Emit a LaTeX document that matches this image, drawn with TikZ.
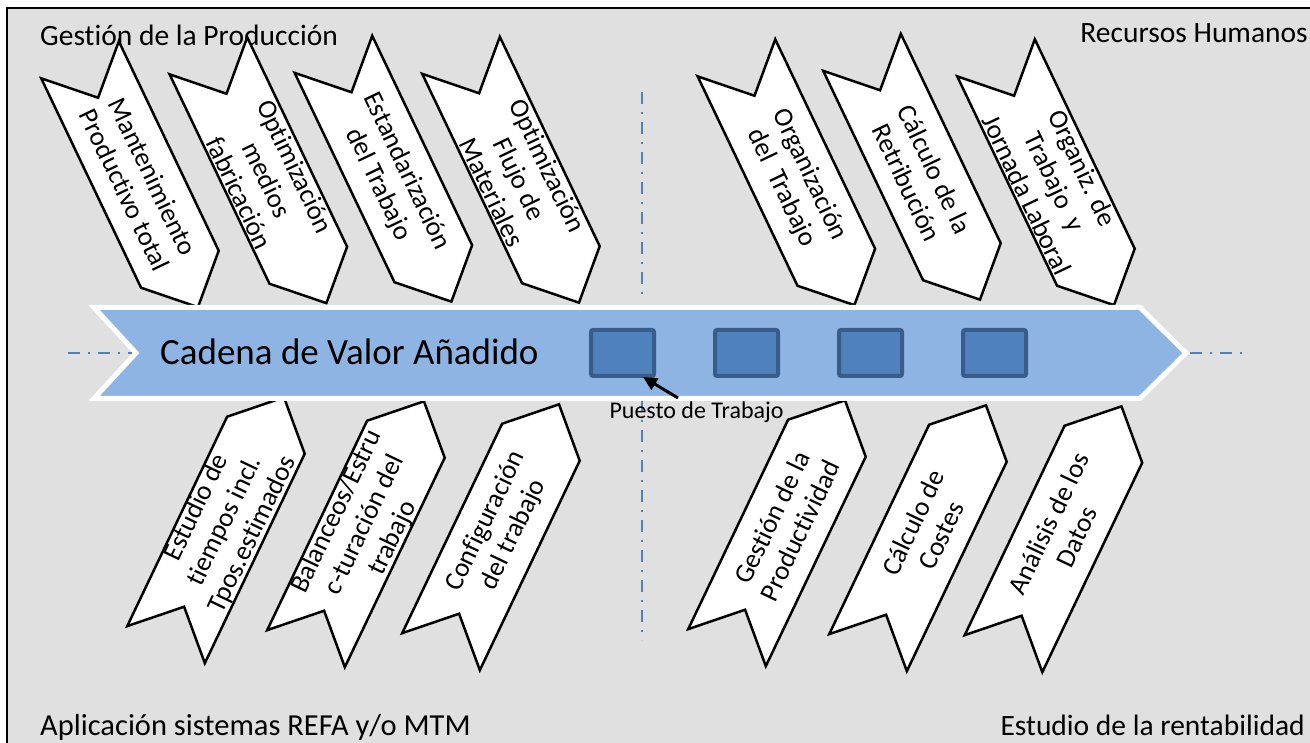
\documentclass[tikz,border=0pt]{standalone}
\usepackage{fontspec}
\setmainfont{Carlito}[Ligatures=NoCommon]
\usetikzlibrary{arrows.meta}
\definecolor{bgray}{RGB}{224,224,224}
\definecolor{bandblue}{RGB}{142,180,227}
\definecolor{boxblue}{RGB}{79,129,189}
\definecolor{boxedge}{RGB}{56,93,138}
\definecolor{lineblue}{RGB}{79,129,189}
\tikzset{
  chevron/.style={draw=black, fill=white, line width=2.5pt, line join=miter},
  chevtext/.style={align=center, font=\fontsize{27}{31}\selectfont, inner sep=0pt},
  corner/.style={font=\fontsize{29.5}{34}\selectfont, inner sep=0pt},
  dashdot/.style={draw=lineblue, line width=2.5pt, dash pattern=on 12pt off 8pt on 2pt off 8pt},
  band/.style={draw=white, fill=bandblue, line width=5pt, line join=miter},
  station/.style={draw=boxedge, fill=boxblue, line width=4pt, rounded corners=2pt, minimum width=63pt, minimum height=46pt, inner sep=0pt},
  pointer/.style={draw=black, line width=3pt, -{Triangle[length=14pt,width=13pt]}},
}
\newcommand\chev[5]{%
  \path[chevron, shift={(#2,#3)}, rotate=#4] (-137,43) -- (95,43) -- (137,0) -- (95,-43) -- (-137,-43) -- (-95,0) -- cycle;
  \node[chevtext, rotate=#4] (#1) at (#2,#3) {#5};}
\begin{document}
\begin{tikzpicture}[x=1pt,y=1pt]
\useasboundingbox (0,0) rectangle (1310,743);
\begin{scope}
\clip (0,0) rectangle (1310,743);
\draw[fill=bgray, line width=2pt] (7,-20) rectangle (1330,735);
\end{scope}
% corner labels
\node[corner, anchor=base west] (gp) at (40,697) {Gestión de la Producción};
\node[corner, anchor=base east] (rh) at (1308,700) {Recursos Humanos};
\node[corner, anchor=base west, font=\fontsize{30.5}{34}\selectfont] (ap) at (40,7) {Aplicación sistemas REFA y/o MTM};
\node[corner, anchor=base east] (er) at (1305,7) {Estudio de la rentabilidad};
% dash-dot axes
\coordinate (vt1) at (642,651); \coordinate (vt2) at (642,443);
\coordinate (vb1) at (642,343); \coordinate (vb2) at (642,103);
\coordinate (hl1) at (68,390); \coordinate (hl2) at (138,390);
\coordinate (hr1) at (1190,390); \coordinate (hr2) at (1245,390);
\draw[dashdot] (vt1) -- (vt2);
\draw[dashdot] (vb1) -- (vb2);
\draw[dashdot] (hl1) -- (hl2);
\draw[dashdot] (hr1) -- (hr2);
% top chevrons
\chev{c1}{139}{559.5}{-64.5}{Mantenimiento\\Productivo total}
\chev{c2}{267.4}{563.5}{-64.5}{Optimización\\medios\\fabricación}
\chev{c3}{392.4}{565}{-64.5}{Estandarización\\del Trabajo}
\chev{c4}{520}{564}{-64.5}{Optimización\\Flujo de\\Materiales}
\chev{c5}{795.4}{561.5}{-64.5}{Organización\\del\ \ Trabajo}
\chev{c6}{921}{567}{-64.5}{Cálculo de la\\Retribución}
\chev{c7}{1055}{561.5}{-64.5}{Organiz. de\\Trabajo\ \ y\\Jornada Laboral}
% bottom chevrons
\chev{d1}{225}{222}{64.5}{Estudio de\\tiempos incl.\\Tpos.estimados}
\chev{d2}{365}{218}{64.5}{Balanceos/Estru\\c-turación del\\trabajo}
\chev{d3}{500}{215}{64.5}{Configuración\\del trabajo}
\chev{d4}{786}{219}{64.5}{Gestión de la\\Productividad}
\chev{d5}{927}{214}{64.5}{Cálculo de\\Costes}
\chev{d6}{1062.5}{213}{64.5}{Análisis de los\\Datos}
% value chain band
\path[band] (94,435.5) -- (1140,435.5) -- (1186,390) -- (1140,344.5) -- (94,344.5) -- (136,390) -- cycle;
\node[font=\fontsize{37}{40}\selectfont, anchor=base west, inner sep=0pt] (cv) at (160,378) {Cadena de Valor Añadido};
\node[station] (s1) at (622.5,390) {};
\node[station] (s2) at (746.5,390) {};
\node[station] (s3) at (870.5,390) {};
\node[station] (s4) at (994.5,390) {};
% label and pointer
\node[font=\fontsize{24}{27}\selectfont, inner sep=0pt, anchor=base] (pt) at (696.5,324) {Puesto de Trabajo};
\coordinate (ptail) at (678,345);
\coordinate (phead) at (643,366);
\draw[pointer] (ptail) -- (phead);
\end{tikzpicture}
\end{document}
